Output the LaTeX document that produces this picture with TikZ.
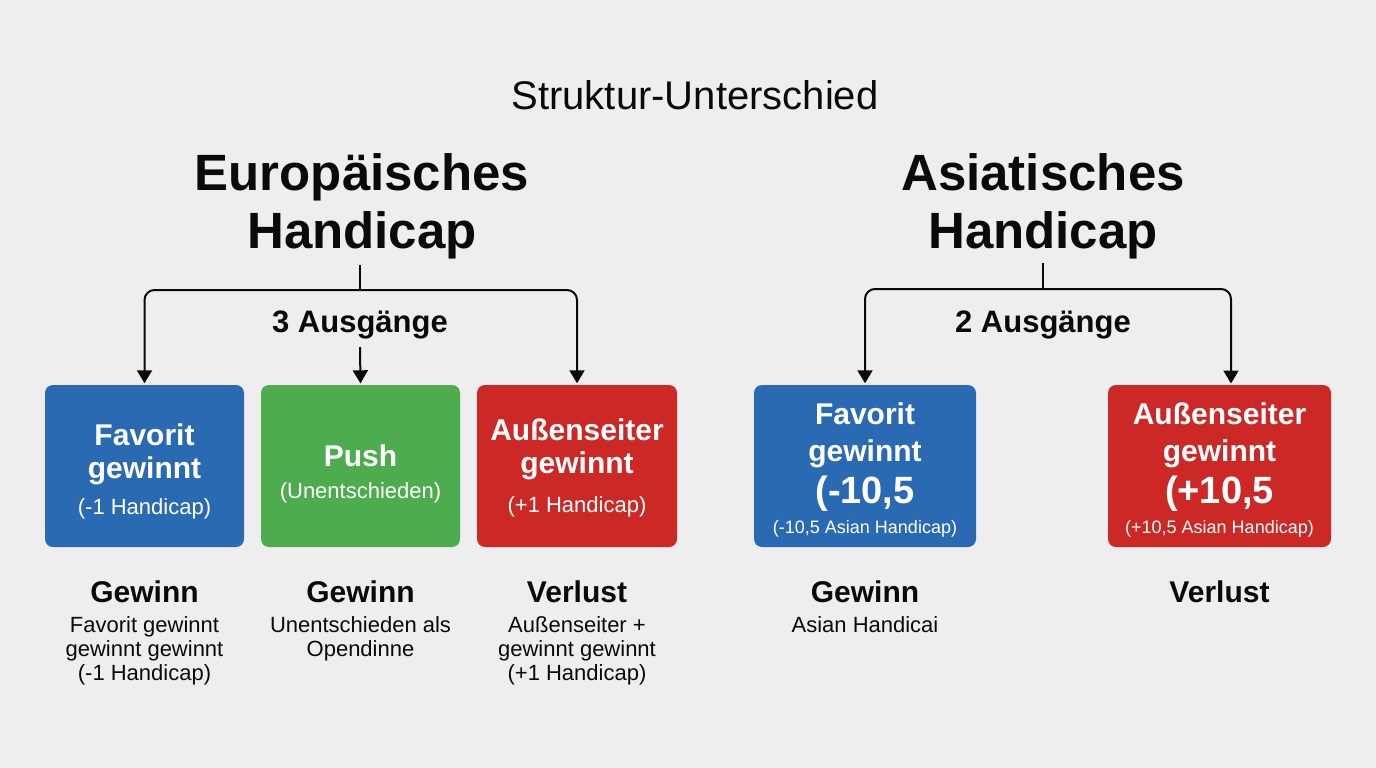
\documentclass[tikz,border=0pt]{standalone}
\usepackage{fontspec}
\setmainfont{Liberation Sans}
\usetikzlibrary{arrows.meta}
\definecolor{bg}{RGB}{238,238,238}
\definecolor{ink}{RGB}{10,10,10}
\definecolor{fblue}{RGB}{42,106,178}
\definecolor{fgreen}{RGB}{76,172,78}
\definecolor{fred}{RGB}{204,40,38}
\begin{document}
\begin{tikzpicture}[x=1pt,y=-1pt,
  box/.style={rounded corners=8pt, minimum width=#1, minimum height=162pt, inner sep=0pt, draw=none},
  lbl/.style={anchor=base, inner sep=0pt, text=ink},
  wlbl/.style={anchor=base, inner sep=0pt, text=white},
  ttl/.style={font=\fontsize{40}{48}\selectfont},
  hd/.style={font=\bfseries\fontsize{51}{58}\selectfont},
  sub/.style={font=\bfseries\fontsize{31}{36}\selectfont},
  btitle/.style={font=\bfseries\fontsize{30}{34}\selectfont},
  bsmall/.style={font=\fontsize{22}{26}\selectfont},
  bbig/.style={font=\bfseries\fontsize{38}{42}\selectfont},
  btiny/.style={font=\fontsize{18}{22}\selectfont},
  res/.style={font=\bfseries\fontsize{30}{34}\selectfont},
  resd/.style={font=\fontsize{22}{26}\selectfont},
  ln/.style={draw=ink, line width=2pt},
  arr/.style={draw=ink, line width=2pt, shorten >=1.5pt, -{Triangle[length=13pt,width=15pt]}}
]
\fill[bg] (0,0) rectangle (1376,768);
\useasboundingbox (0,0) rectangle (1376,768);

% title
\node[lbl, ttl] (title) at (695,109) {Struktur-Unterschied};

% headings
\node[lbl, hd] (eu1) at (362,190) {Europäisches};
\node[lbl, hd] (eu2) at (362,248) {Handicap};
\node[lbl, hd] (as1) at (1043,190) {Asiatisches};
\node[lbl, hd] (as2) at (1043,248) {Handicap};

% boxes
\node[box=199pt, fill=fblue]  (b1) at (144.5,466) {};
\node[box=199pt, fill=fgreen] (b2) at (360.5,466) {};
\node[box=200pt, fill=fred]   (b3) at (577,466) {};
\node[box=222pt, fill=fblue]  (b4) at (865,466) {};
\node[box=223pt, fill=fred]   (b5) at (1219.5,466) {};

% labels 3 Ausgaenge / 2 Ausgaenge
\node[lbl, sub] (e3) at (360,332) {3 Ausgänge};
\node[lbl, sub] (a2) at (1043,332) {2 Ausgänge};

% connectors left
\coordinate (eS) at (360,265);
\coordinate (eJ) at (360,290);
\coordinate (eM) at (360,347);
\draw[ln] (eS) -- (eJ);
\draw[arr, rounded corners=10pt] (eJ) -| (b1.north);
\draw[arr, rounded corners=10pt] (eJ) -| (b3.north);
\draw[arr] (eM) -- (b2.north);

% connectors right
\coordinate (aS) at (1043,263);
\coordinate (aJ) at (1043,289);
\coordinate (aR) at (1231,385);
\draw[ln] (aS) -- (aJ);
\draw[arr, rounded corners=10pt] (aJ) -| (b4.north);
\draw[arr, rounded corners=10pt] (aJ) -| (aR);

% box texts
\node[wlbl, btitle] (b1a) at (144.5,445) {Favorit};
\node[wlbl, btitle] (b1b) at (144.5,478) {gewinnt};
\node[wlbl, bsmall] (b1c) at (144.5,514) {(-1 Handicap)};

\node[wlbl, btitle] (b2a) at (360.5,466) {Push};
\node[wlbl, bsmall] (b2b) at (360.5,498) {(Unentschieden)};

\node[wlbl, btitle] (b3a) at (577,440) {Außenseiter};
\node[wlbl, btitle] (b3b) at (577,473) {gewinnt};
\node[wlbl, bsmall] (b3c) at (577,512) {(+1 Handicap)};

\node[wlbl, btitle] (b4a) at (865,424) {Favorit};
\node[wlbl, btitle] (b4b) at (865,461) {gewinnt};
\node[wlbl, bbig]   (b4c) at (865,503) {(-10,5};
\node[wlbl, btiny]  (b4d) at (865,533) {(-10,5 Asian Handicap)};

\node[wlbl, btitle] (b5a) at (1219.5,424) {Außenseiter};
\node[wlbl, btitle] (b5b) at (1219.5,461) {gewinnt};
\node[wlbl, bbig]   (b5c) at (1219.5,503) {(+10,5};
\node[wlbl, btiny]  (b5d) at (1219.5,533) {(+10,5 Asian Handicap)};

% results
\node[lbl, res]  (r1)  at (144.5,602) {Gewinn};
\node[lbl, resd] (r1a) at (144.5,632) {Favorit gewinnt};
\node[lbl, resd] (r1b) at (144.5,656) {gewinnt gewinnt};
\node[lbl, resd] (r1c) at (144.5,680) {(-1 Handicap)};

\node[lbl, res]  (r2)  at (360.5,602) {Gewinn};
\node[lbl, resd] (r2a) at (360.5,632) {Unentschieden als};
\node[lbl, resd] (r2b) at (360.5,656) {Opendinne};

\node[lbl, res]  (r3)  at (577,602) {Verlust};
\node[lbl, resd] (r3a) at (577,632) {Außenseiter +};
\node[lbl, resd] (r3b) at (577,656) {gewinnt gewinnt};
\node[lbl, resd] (r3c) at (577,680) {(+1 Handicap)};

\node[lbl, res]  (r4)  at (865,602) {Gewinn};
\node[lbl, resd] (r4a) at (865,632) {Asian Handicai};

\node[lbl, res]  (r5)  at (1219.5,602) {Verlust};
\end{tikzpicture}
\end{document}
